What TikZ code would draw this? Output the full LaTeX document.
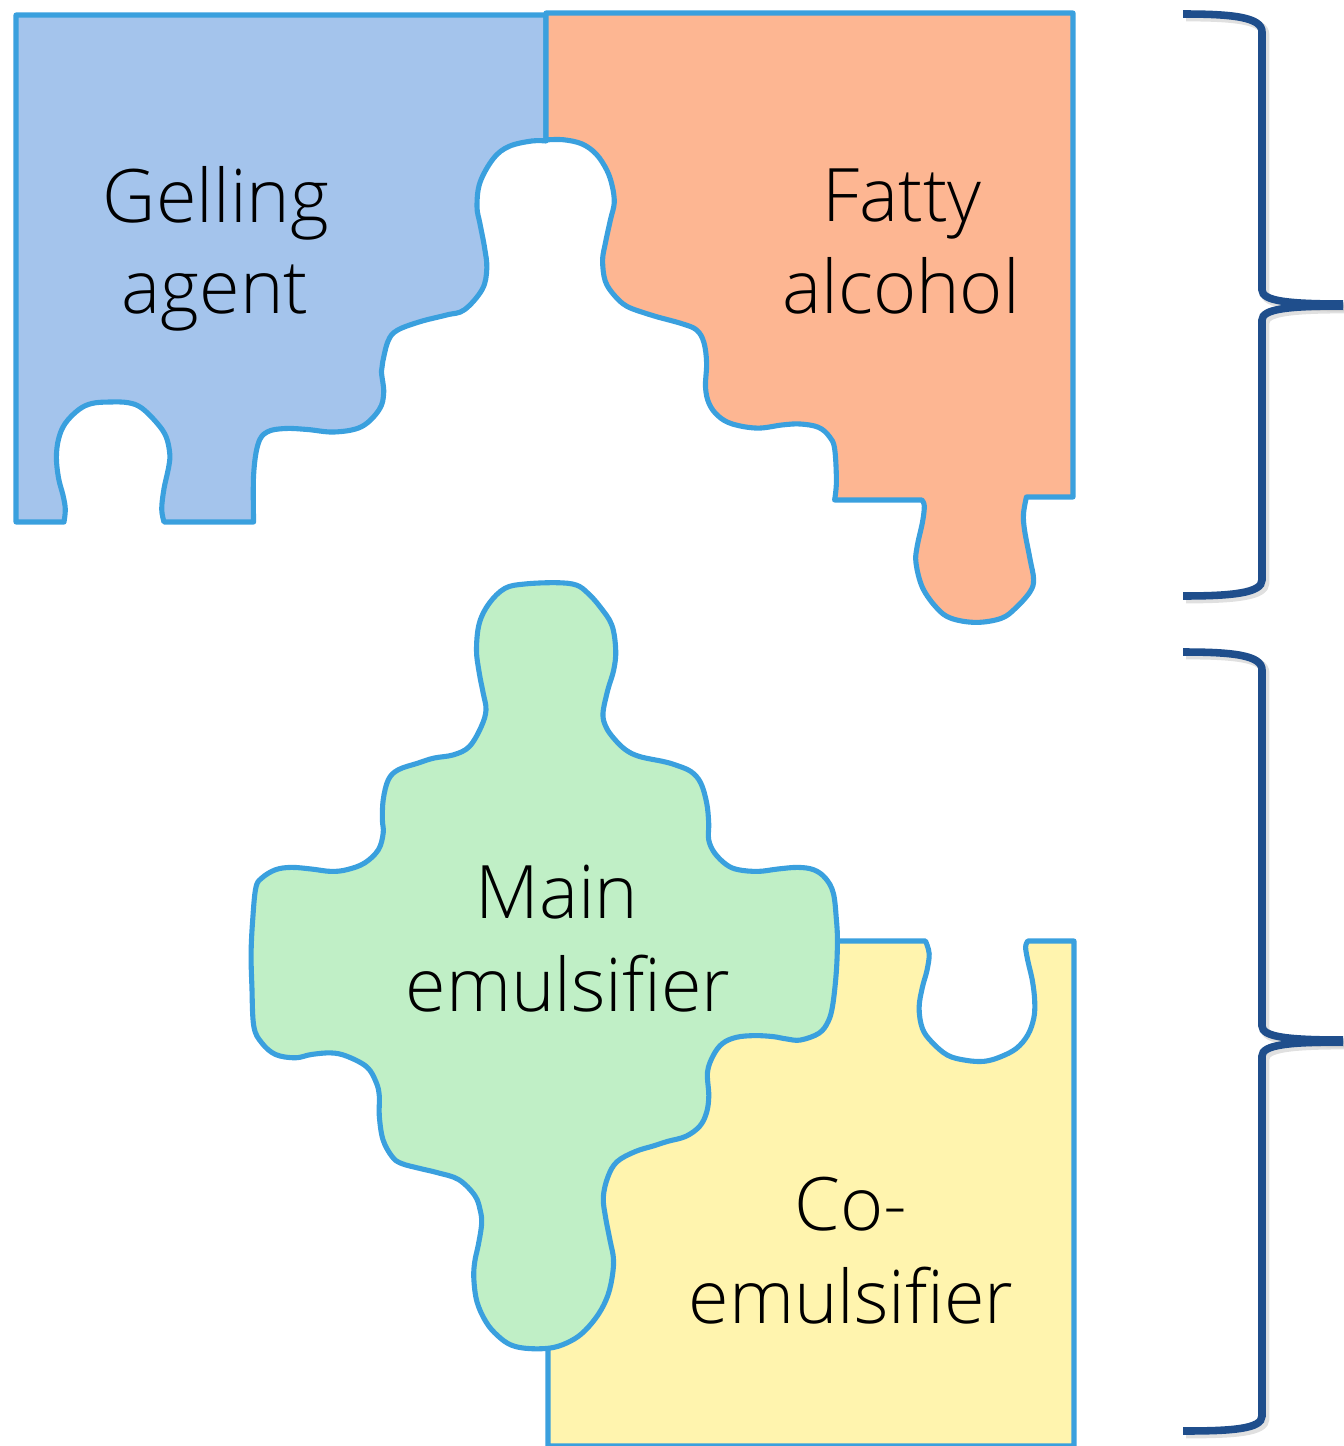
\documentclass[tikz,border=0pt]{standalone}
\usepackage{fontspec}
\IfFontExistsTF{Open Sans Light}{\newfontfamily\lblfont{Open Sans Light}}{\newfontfamily\lblfont{Open Sans}}
\definecolor{cblue}{HTML}{A4C4EC}
\definecolor{corange}{HTML}{FDB692}
\definecolor{cgreen}{HTML}{C0EFC6}
\definecolor{cyellow}{HTML}{FFF4AE}
\definecolor{cline}{HTML}{3AA0DE}
\definecolor{cbrace}{HTML}{1F4E8C}
\tikzset{
  piece/.style={draw=cline, line width=2.9pt, line join=round},
  brace/.style={draw=cbrace, line width=4.3pt},
  braceshadow/.style={draw=black!35, opacity=0.35, line width=5pt},
  lbl/.style={font=\lblfont\fontsize{42pt}{50pt}\selectfont, text=black, inner sep=0pt, anchor=base},
}
\begin{document}
\begin{tikzpicture}[x=0.02cm, y=-0.02cm]
\useasboundingbox (0,0) rectangle (1343,1446);
% Blue piece
\filldraw[piece, fill=cblue] (16,15) -- (546,15) -- (546,141) -- plot[smooth,tension=.6] coordinates {(546,141) (531.7,141) (509,146.4) (493.5,158.4) (480,182.5) (477,206.6) (480,223.8) (484.6,247.9) (486.8,268.5) (482.3,289.2) (464.4,309.8) (446.5,315) (419.6,321.8) (397.1,330.4) (388.2,340.8) (382.8,361.4) (381.4,371.7) (383.7,392.4) (379.2,409.6) (361.3,426.8) (334.4,432) (307.5,429.5) (285,428.5) (267.1,432) (258.1,444) (253.6,475) (253.6,522)} -- (164,522) -- plot[smooth,tension=.6] coordinates {(164,522) (161.7,509) (164,488.7) (168.5,468) (169.8,454.3) (166.2,437) (157.2,423.3) (141.5,407.9) (128.1,402.7) (110.2,402) (92.2,403.4) (78.8,409.6) (65.3,423.3) (58.6,438.8) (56.4,457.7) (58.6,478.4) (63.1,495.6) (65.3,509.3) (64,522)} -- (16,522) -- cycle;
% Orange piece
\filldraw[piece, fill=corange] (546,13) -- (1073,13) -- (1073,497) -- (1026.4,497) -- plot[smooth,tension=.6] coordinates {(1026.4,497) (1023.5,514) (1024.6,530.4) (1030,559) (1033.6,579.5) (1030,591.8) (1015.7,608) (1001.3,618.3) (976.2,622.4) (951.1,618.3) (936.8,608) (922.5,587.6) (916,563) (917.1,546.7) (922.5,522) (924.3,506) (921.8,500)} -- (834.6,500) -- plot[smooth,tension=.6] coordinates {(834.6,500) (836.4,481.3) (834.6,448.6) (829.2,436.3) (818.4,427.3) (800.5,424) (782.6,424.9) (757.5,428.1) (732.4,424) (718.1,415.9) (709.1,403.6) (705.5,387.2) (706.6,362.7) (703.8,342.2) (696.6,330) (682.3,323.8) (657.2,316.9) (646.4,313.6) (626.7,306.2) (614.2,295.2) (605.2,280.9) (602.6,260.4) (605.2,244) (610.5,219.5) (614.2,203.2) (612.4,186.8) (607,170.5) (596.2,154.1) (581.9,143.9) (563.9,139.8) (547.8,139.8)} -- (546,139.8) -- cycle;
% Yellow piece
\filldraw[piece, fill=cyellow] (548,1446) -- (548,941) -- (925.5,941) -- plot[smooth,tension=.6] coordinates {(925.5,941) (929.2,953.8) (926.9,970.7) (922.3,987.6) (919.1,1007.9) (922.3,1028.2) (931.5,1041.7) (947.5,1055.2) (965.9,1060.3) (984.2,1061.3) (1000.3,1056.9) (1016.4,1048.4) (1027.8,1034.9) (1033.8,1018) (1034.7,1001.1) (1032.4,980.8) (1027.8,960.6) (1025.6,947) (1027.8,941)} -- (1074,941) -- (1074,1446) -- cycle;
% Green piece
\filldraw[piece, fill=cgreen] plot[smooth cycle,tension=.6] coordinates {(524.8,584) (556.4,582.7) (576.2,585) (588,593.3) (599.9,606.6) (611.8,625) (615.7,650) (613.7,670) (607.8,690) (603,713.2) (605.8,726.5) (613.7,738.2) (625.6,749.8) (639.5,756.5) (663.2,761.5) (675,764.8) (690.9,771.5) (700.8,783.1) (706.7,803.1) (708.7,823.1) (708.7,839.7) (714.6,853) (726.5,864.7) (738.3,869.7) (758.1,871.4) (777.9,869) (797.7,867.4) (813.5,869.7) (825.3,878) (833.3,893) (836.4,919.7) (837.4,940) (836.4,970.7) (832.8,1004.5) (828.2,1021.4) (819,1033.2) (800.6,1040) (786.9,1039) (773.1,1036.6) (754.7,1035.6) (736.4,1037.3) (722.6,1043.4) (713.4,1055.2) (707.5,1072.1) (708.8,1095.8) (706.5,1112.7) (699.7,1126.2) (685.9,1136.3) (667.5,1141.4) (653.8,1145.8) (635.4,1151.5) (617,1161.7) (607.9,1176.9) (603.3,1197.2) (605.6,1217.4) (610.2,1241.1) (613.4,1258) (612.5,1274.9) (607.9,1295.2) (598.7,1313.8) (584.9,1330.7) (571.1,1340.8) (552.8,1347.6) (529.8,1348.6) (511.5,1345.2) (497.7,1335.7) (486.2,1322.2) (477,1301.9) (473.8,1278.3) (474.8,1261.4) (478.4,1244.5) (481.6,1224.2) (480.3,1210.7) (474.8,1195.5) (458.7,1179.6) (438,1172.8) (419.7,1168.4) (401.3,1163.4) (392.1,1156.6) (383,1139.7) (379.3,1116) (379.3,1095.8) (376.1,1082.2) (366.9,1067) (346.8,1056.2) (331,1052.9) (311.2,1054.5) (295.4,1057.8) (275.6,1054.5) (261.8,1042.9) (253.8,1026.2) (251.9,986.3) (251.1,953) (252.7,919.7) (255.8,888) (261.8,878) (275.6,869.7) (291.4,867.4) (311.2,869) (331,871.4) (346.8,869.7) (364.6,863) (378.4,849.7) (383.2,833) (382.4,819.8) (383.2,799.8) (388.3,779.8) (398.2,769.8) (418,763.1) (433.8,758.1) (453.6,754.8) (469.4,746.5) (481.3,726.5) (486,709.9) (483.2,693.2) (479.3,673.2) (476.5,650) (479.3,623.3) (489.2,603.3) (505,588.3)};
% Braces (shadow then stroke)
\foreach \s/\o in {braceshadow/3, brace/0} {
  \begin{scope}[shift={(\o,\o)}]
  \draw[\s] (1183,14) .. controls (1232,14) and (1262,17) .. (1262,32) -- (1262,290) .. controls (1262,301) and (1288,304) .. (1343,304);
  \draw[\s] (1343,306) .. controls (1288,306) and (1262,309) .. (1262,320) -- (1262,580) .. controls (1262,593) and (1232,596) .. (1183,596);
  \draw[\s] (1183,652) .. controls (1232,652) and (1262,655) .. (1262,670) -- (1262,1026) .. controls (1262,1037) and (1288,1040) .. (1343,1040);
  \draw[\s] (1343,1042) .. controls (1288,1042) and (1262,1045) .. (1262,1056) -- (1262,1416) .. controls (1262,1429) and (1232,1431) .. (1183,1431);
  \end{scope}
}
% Labels
\node[lbl] (gel1) at (216,222) {Gelling};
\node[lbl] (gel2) at (215,313) {agent};
\node[lbl] (fat1) at (902,221) {Fatty};
\node[lbl] (fat2) at (901,313) {alcohol};
\node[lbl] (main1) at (557,918) {Main};
\node[lbl] (main2) at (568,1011) {emulsifier};
\node[lbl] (co1) at (851,1230) {Co-};
\node[lbl] (co2) at (851,1323) {emulsifier};
\end{tikzpicture}
\end{document}
